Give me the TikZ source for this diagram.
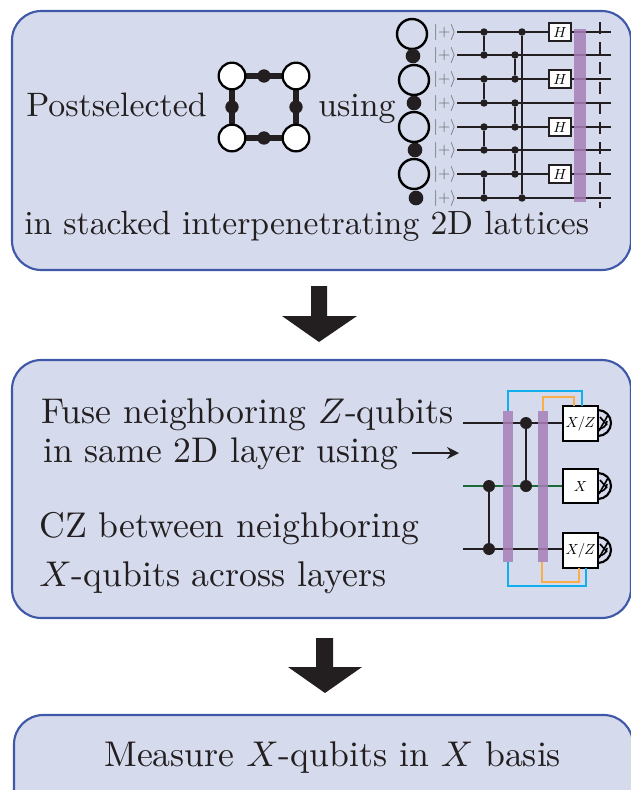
\documentclass[tikz,border=0pt]{standalone}
\usepackage{amsmath}
\usetikzlibrary{calc,arrows.meta}
\DeclareFontFamily{TU}{lmx}{}
\DeclareFontShape{TU}{lmx}{m}{n}{<-> \UnicodeFontFile{lmroman10-regular}{\UnicodeFontTeXLigatures}}{}
\renewcommand{\rmdefault}{lmx}
\DeclareFontFamily{OML}{cmmx}{\skewchar\font=127}
\DeclareFontShape{OML}{cmmx}{m}{it}{<-> cmmi10}{}
\DeclareSymbolFont{letters}{OML}{cmmx}{m}{it}
\tikzset{
  panel/.style={draw=panelblue,fill=panelfill,line width=1.6pt,rounded corners=22pt},
  wire/.style={draw=inkc,line width=1.35pt},
  dotsmall/.style={circle,fill=inkc,inner sep=0pt,minimum size=5.6pt},
  dotbig/.style={circle,fill=inkc,inner sep=0pt,minimum size=9pt},
  qubit/.style={circle,draw=black,fill=none,line width=1.8pt,inner sep=0pt,minimum size=22.5pt},
  anc/.style={circle,fill=inkc,inner sep=0pt,minimum size=11pt},
  sq/.style={circle,draw=black,fill=white,line width=1.7pt,inner sep=0pt,minimum size=20pt},
  hbox/.style={draw=inkc,fill=white,line width=1.35pt,inner sep=0pt,minimum width=16pt,minimum height=14pt,font=\fontsize{11}{11}\selectfont},
  mbox/.style={draw=black,fill=white,line width=1.5pt,inner sep=0pt,minimum width=26pt,minimum height=26pt,font=\fontsize{11}{11}\selectfont},
  ket/.style={inner sep=0pt,text=gray!75!black,font=\fontsize{12}{12}\selectfont},
  labela/.style={inner sep=0pt,anchor=base west,text=inkc,font=\fontsize{25.4}{30}\selectfont},
  labelb/.style={inner sep=0pt,anchor=base west,text=inkc,font=\fontsize{26.8}{30}\selectfont},
  bigarrow/.style={fill=inkc,draw=none},
  stripe/.style={fill=violet1,fill opacity=.85,draw=none}
}
\definecolor{panelfill}{HTML}{D5DAEC}
\definecolor{panelblue}{HTML}{4058A8}
\definecolor{inkc}{HTML}{231F20}
\definecolor{violet1}{HTML}{A77FB8}
\definecolor{cyanw}{HTML}{10AEEA}
\definecolor{orangew}{HTML}{F9AE4A}
\definecolor{greenw}{HTML}{1A6B38}
\newcommand{\meter}[1]{%
  \draw[black,line width=1.6pt] (598,#1-13) arc (-90:90:13);
  \draw[black,line width=1.2pt] (598,#1+6) arc (90:0:9 and 8);
  \draw[black,line width=1.2pt] (600,#1-6) -- (607,#1+2);
  \draw[black,line width=1.2pt] (599,#1+8) -- (608,#1-8);
}
\begin{document}
\begin{tikzpicture}[x=0.75pt,y=-0.75pt]
\useasboundingbox (0,0) rectangle (631,790);
\clip (0,0) rectangle (631,790);
% panels
\draw[panel] (12,11) rectangle (631,270);
\draw[panel] (12,360) rectangle (631,618);
\draw[panel] (14,715) rectangle (633,830);
% big arrows
\fill[bigarrow] (311,286) -- (327,286) -- (327,316) -- (357,316) -- (319,342) -- (282,316) -- (311,316) -- cycle;
\fill[bigarrow] (316,638) -- (333,638) -- (333,667) -- (362,667) -- (325,693) -- (288,667) -- (316,667) -- cycle;
% texts
\node[labela] (t1) at (26,116) {Postselected};
\node[labela] (t2) at (318,116) {using};
\node[labela,font=\fontsize{25.2}{30}\selectfont] (t3) at (24,234) {in stacked interpenetrating 2D lattices};
\node[labelb] (t4) at (41,423) {Fuse neighboring $Z$-qubits};
\node[labelb,font=\fontsize{26.7}{30}\selectfont] (t5) at (43,462) {in same 2D layer using};
\node[labelb] (t6) at (39,537) {CZ between neighboring};
\node[labelb] (t7) at (39,586) {$X$-qubits across layers};
\node[labelb] (t8) at (104,766) {Measure $X$-qubits in $X$ basis};
% plaquette
\foreach \n/\x/\y in {a/232/76,b/296/76,c/296/138,d/232/138}{\coordinate (p\n) at (\x,\y);}
\draw[inkc,line width=5.2pt] (pa) -- (pb) -- (pc) -- (pd) -- cycle;
\foreach \n/\m in {a/b,b/c,c/d,d/a}{\node[circle,fill=inkc,inner sep=0pt,minimum size=10pt] (m\n\m) at ($(p\n)!.5!(p\m)$) {};}
\foreach \n in {a,b,c,d}{\node[sq] (s\n) at (p\n) {};}
% resource chain
\foreach \i/\x/\y in {1/412/34,2/414/80,3/414/127,4/414/174}{\node[qubit] (q\i) at (\x,\y) {};}
\foreach \i/\x/\y in {1/413/56,2/414/103,3/415/150,4/416/198}{\node[anc] (r\i) at (\x,\y) {};}
% wires
\foreach \i/\y in {1/32,2/55,3/79,4/103,5/127,6/150,7/174,8/198}{
  \node[ket] (k\i) at (445,\y) {$|{+}\rangle$};
  \coordinate (wa\i) at (457,\y);
  \coordinate (wb\i) at (611,\y);
  \draw[wire] (wa\i) -- (wb\i);
}
% dashed cut
\coordinate (cuta) at (600,22);
\coordinate (cutb) at (600,208);
\draw[wire,dash pattern=on 9pt off 6pt] (cuta) -- (cutb);
% CZs
\foreach \x/\p/\q in {484/1/2,484/3/4,484/5/6,484/7/8,515/2/3,515/4/5,515/6/7,522/1/8}{
  \node[dotsmall] (u\x\p) at (\x,0 |- wa\p) {};
  \node[dotsmall] (v\x\q) at (\x,0 |- wa\q) {};
  \draw[wire] (u\x\p) -- (v\x\q);
}
% purple stripe + H
\fill[stripe] (574,29) rectangle (586,202);
\foreach \i/\y in {1/32,3/79,5/127,7/174}{\node[hbox] (h\i) at (560,\y) {$H$};}
% lower circuit
\coordinate (la) at (463,423); \coordinate (lb) at (463,486); \coordinate (lc) at (463,549);
\node[mbox] (ma) at (580.5,423.5) {$X/Z$};
\node[mbox] (mb) at (580.5,486) {$X$};
\node[mbox] (mc) at (580.5,550.5) {$X/Z$};
\draw[wire] (la) -- (ma.west |- la);
\draw[greenw,line width=1.35pt] (lb) -- (mb.west);
\draw[wire] (lc) -- (mc.west |- lc);
\node[dotbig] (d1) at (526,423) {};
\node[dotbig] (d2) at (526,486) {};
\node[dotbig] (d3) at (489,486) {};
\node[dotbig] (d4) at (489,549) {};
\draw[wire] (d1) -- (d2);
\draw[wire] (d3) -- (d4);
\fill[stripe] (503,411) rectangle (513,562);
\fill[stripe] (538,411) rectangle (548,562);
\draw[cyanw,line width=1.3pt] (508,411) -- (508,391) -- (582,391) -- (582,406);
\draw[cyanw,line width=1.3pt] (508,562) -- (508,586) -- (586,586) -- (586,568);
\draw[orangew,line width=1.3pt] (543,411) -- (543,397) -- (574,397) -- (574,406);
\draw[orangew,line width=1.3pt] (542,562) -- (542,582) -- (579,582) -- (579,568);
\meter{423}\meter{486}\meter{550}
% arrow
\coordinate (ara) at (412,453); \coordinate (arb) at (459,453);
\draw[inkc,line width=1.2pt,-{Stealth[length=9pt,width=9pt,inset=3pt]}] (ara) -- (arb);
\end{tikzpicture}
\end{document}
